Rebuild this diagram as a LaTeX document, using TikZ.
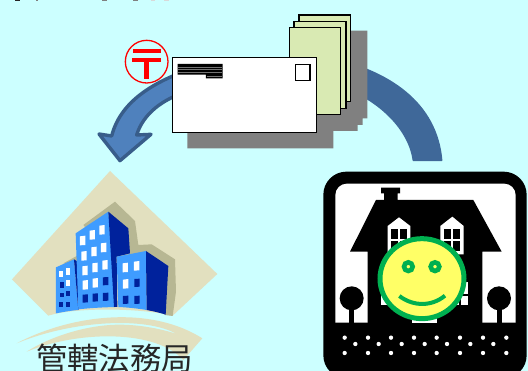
\documentclass[tikz,border=0pt]{standalone}
\usepackage{fontspec}
\newfontfamily\cjkfont{Noto Sans CJK JP}
\definecolor{bgc}{HTML}{CCFFFF}
\definecolor{tan1}{HTML}{E2E0BF}
\definecolor{olive}{HTML}{B7B793}
\definecolor{bluea}{HTML}{3F9CFF}
\definecolor{blued}{HTML}{00229C}
\definecolor{arrowf}{HTML}{4F81BD}
\definecolor{arrowl}{HTML}{385D8A}
\definecolor{arrowr}{HTML}{3F6899}
\definecolor{paper}{HTML}{D9EAB3}
\definecolor{smgreen}{HTML}{00B050}
\definecolor{smyel}{HTML}{FFFF66}
\tikzset{
 zoomA/.style={x=0.33333pt,y=-0.33333pt,shift={(0pt,-160pt)}},
 zoomB/.style={x=0.33333pt,y=-0.33333pt,shift={(310pt,-165pt)}},
 zoomC/.style={x=0.33333pt,y=-0.33333pt,shift={(90pt,0pt)}},
 sheet/.style={draw=black,line width=1.5pt,fill=paper},
}
\newcommand{\wW}[2]{\fill[white] (#1-8,#2-13) -- (#1+8,#2-15) -- (#1+8,#2+13) -- (#1-8,#2+14) -- cycle;}
\newcommand{\wD}[2]{\fill[blued] (#1-8,#2-12) -- (#1+8,#2-13) -- (#1+8,#2+11) -- (#1-8,#2+12) -- cycle;}
\begin{document}
\begin{tikzpicture}[x=1pt,y=-1pt]
\useasboundingbox (0,0) rectangle (528,371);
\clip (0,0) rectangle (528,371);
\fill[bgc] (0,0) rectangle (528,371);
% clipped remains of a line of text at the top edge
\fill[black!85] (15,0) rectangle (20,0.8);
\fill[black!50] (36,0) rectangle (38,0.8);
\fill[black!50] (102,0) rectangle (107,0.8);
\fill[black!50] (133,0) rectangle (138,0.8);
\fill[black!15] (151,0) rectangle (155,0.8);
\fill[black!15] (164,0) rectangle (169,0.8);
% building picture
\begin{scope}[zoomA]
\fill[tan1] (330,33) -- (652,342) -- (517,468) .. controls (440,445) and (230,440) .. (145,467) -- (36,358) -- cycle;
\fill[tan1] (50,550) .. controls (200,470) and (440,430) .. (607,535) -- (550,600) .. controls (470,510) and (240,510) .. (80,575) .. controls (150,530) and (250,500) .. (330,495) .. controls (400,490) and (480,505) .. (530,522) .. controls (440,470) and (220,480) .. (50,550) -- cycle;
\fill[olive] (250,195) -- (345,125) -- (405,183) -- (415,255) -- (455,253) -- (525,298) -- (528,395) -- (518,468) -- (495,465) -- cycle;
\fill[olive] (190,310) -- (230,288) -- (240,320) -- cycle;
\fill[bluea] (168,322) -- (222,298) -- (235,450) .. controls (210,452) and (190,456) .. (168,460) -- cycle;
\fill[blued] (222,298) -- (233,305) -- (236,450) -- (235,450) -- cycle;
\fill[bluea] (227,220) -- (325,155) -- (345,441) .. controls (310,442) and (270,444) .. (235,448) -- cycle;
\fill[blued] (325,155) -- (385,205) -- (390,280) -- (350,290) -- (352,441) -- (342,441) -- cycle;
\fill[bluea] (350,290) -- (438,273) -- (440,450) .. controls (410,445) and (380,442) .. (355,441) -- cycle;
\fill[blued] (438,273) -- (505,318) -- (497,464) .. controls (480,458) and (460,454) .. (440,450) -- cycle;
\wW{248}{242}\wW{277}{225}\wW{306}{210}
\wW{252}{288}\wW{282}{275}\wW{311}{263}
\wW{255}{332}\wW{285}{323}\wW{315}{315}
\wW{256}{375}\wW{286}{369}\wD{317}{364}
\wD{256}{416}\wD{286}{413}\wD{317}{411}
\wW{376}{323}\wW{410}{318}
\wW{377}{372}\wD{411}{369}
\wD{377}{420}\wD{411}{420}
\fill[white] (178,334) rectangle (190,351);
\fill[white] (199,325) rectangle (211,344);
\fill[blued] (179,366) rectangle (191,383);
\fill[white] (199,360) rectangle (211,377);
\fill[blued] (179,398) rectangle (191,412);
\fill[blued] (199,393) rectangle (211,409);
\fill[blued] (177,426) rectangle (189,441);
\fill[blued] (198,425) rectangle (210,440);
\end{scope}
\node[font=\cjkfont,text=black!85,inner sep=0pt,anchor=center] (label) at (114.5,359) {\fontsize{31.4pt}{32pt}\selectfont 管轄法務局};
% right arrow
\begin{scope}[zoomC]
\draw[arrowr,fill=arrowr,line width=1.5pt,line join=round] (700,170) .. controls (900,210) and (1040,310) .. (1055,481) -- (970,481) .. controls (960,400) and (880,290) .. (700,240) -- cycle;
% left arrow
\draw[arrowl,fill=arrowf,line width=3.4pt,line join=round] (300,208) .. controls (180,250) and (90,310) .. (65,408) -- (27,402) -- (90,482) -- (183,403) -- (140,405) .. controls (160,340) and (220,295) .. (300,272) -- cycle;
% post mark
\draw[red,line width=1.3pt,fill=bgc] (170,185) circle (64);
\fill[red] (128,148) rectangle (212,160);
\fill[red] (125,173) rectangle (212,187);
\fill[red] (163,187) rectangle (178,238);
% shadows
\fill[black!50] (292,217) -- (730,217) -- (730,92) -- (832,92) -- (832,355) -- (818,355) -- (818,375) -- (803,375) -- (803,393) -- (730,393) -- (730,445) -- (292,445) -- cycle;
% papers
\draw[sheet] (627,45) rectangle (782,305);
\draw[sheet] (612,65) rectangle (768,325);
\draw[sheet] (598,83) rectangle (752,343);
% envelope
\draw[black,line width=1.5pt,fill=white] (248,173) rectangle (680,397);
\draw[black,line width=1.5pt,fill=white] (616,193) rectangle (660,241);
\fill[black] (263,192) -- (398,192) -- (398,235) -- (348,235) -- (348,224) -- (263,224) -- cycle;
\draw[black!55,line width=0.3pt] (265,201) -- (396,201) (265,208) -- (396,208) (265,216) -- (396,216) (350,229) -- (396,229);
\end{scope}
% house sign
\begin{scope}[zoomB]
\fill[black,rounded corners=23pt] (40,20) rectangle (650,640);
\fill[white] (76,200) [rounded corners=11.5pt] -- (76,56) -- (617,56) [sharp corners] -- (617,473) -- (76,473) -- cycle;
\fill[black] (120,260) -- (198,105) -- (222,105) -- (222,85) -- (213,85) -- (213,68) -- (270,68) -- (270,85) -- (263,85) -- (263,105) -- (490,105) -- (575,260) -- (517,260) -- (517,474) -- (173,474) -- (173,260) -- cycle;
% tree
\fill[black] (125,400) circle (36);
\fill[black] (118,430) rectangle (133,474);
\fill[black] (567,400) circle (36);
\fill[black] (560,430) rectangle (575,474);
% dormers
\fill[white] (233,183) -- (267,157) -- (301,183) -- (301,268) -- (233,268) -- cycle;
\fill[white] (391,183) -- (427,155) -- (461,183) -- (461,268) -- (391,268) -- cycle;
\foreach \x/\y in {243/192,270/192,243/228,270/228,402/192,429/192,402/228,429/228}
  \fill[black] (\x,\y) rectangle +(21,30);
% lower windows
\fill[white] (213,350) rectangle (300,420);
\fill[white] (390,350) rectangle (475,420);
\fill[black] (395,388) rectangle (475,394);
\fill[black] (447,350) rectangle (452,420);
\fill[white] (305,455) rectangle (381,473);
% dots
\foreach \x in {104,174,243,312,380,450,519,589} {
  \fill[white] (\x,518) circle (6.5);
  \fill[white] (\x,564) circle (6.5);
}
\foreach \x in {136,206,275,344,411,481,550}
  \fill[white] (\x,537) circle (6.5);
% smiley
\draw[smgreen,fill=smyel,line width=5pt] (336,341) ellipse [x radius=126,y radius=120];
\draw[smgreen,fill=smyel,line width=4.6pt] (295,305) circle (13);
\draw[smgreen,fill=smyel,line width=4.6pt] (375,305) circle (13);
\draw[smgreen,line width=4pt] (268,393) .. controls (310,425) and (365,425) .. (405,392);
\end{scope}
\end{tikzpicture}
\end{document}
